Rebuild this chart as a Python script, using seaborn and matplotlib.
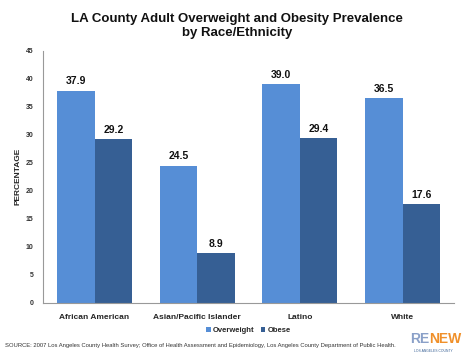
import pandas as pd
import seaborn as sns
from matplotlib import pyplot as plt

# data
groups = ['African American', 'Asian/Pacific Islander', 'Latino', 'White']
overweight = [37.9, 24.5, 39.0, 36.5]
obese = [29.2, 8.9, 29.4, 17.6]
series = ['Overweight', 'Obese']
yticks = [0, 5, 10, 15, 20, 25, 30, 35, 40, 45]

df = pd.DataFrame({
    'group': groups * 2,
    'value': overweight + obese,
    'series': [series[0]] * len(groups) + [series[1]] * len(groups),
})

sns.set_style("white")
plt.rcParams['font.family'] = ['Liberation Sans', 'DejaVu Sans']

fig = plt.figure(figsize=(4.74, 3.55), dpi=100)
ax = fig.add_axes([0.091, 0.147, 0.867, 0.71])

palette = ['#568ed6', '#365f94']
sns.barplot(data=df, x='group', y='value', hue='series', palette=palette,
            width=0.73, saturation=1, ax=ax, errorbar=None, linewidth=0)

for c in ax.containers:
    ax.bar_label(c, fmt='%.1f', fontsize=7.5, fontweight='bold', padding=3, color='#111111')

ax.set_ylim(0, 45)
ax.set_yticks(yticks)
ax.set_yticklabels(yticks, fontsize=5, fontweight='bold', color='#333333')
ax.set_xticks(range(len(groups)))
ax.set_xticklabels(groups, fontsize=6, fontweight='bold')
ax.tick_params(axis='y', length=2, color='#999999', pad=5)
ax.tick_params(axis='x', length=0, pad=8)
ax.set_xlabel('')
ax.set_ylabel('PERCENTAGE', fontsize=6, fontweight='bold', labelpad=3)
ax.set_xlim(-0.5, len(groups) - 0.5)

sns.despine(ax=ax)
for s in ['left', 'bottom']:
    ax.spines[s].set_color('#999999')
    ax.spines[s].set_linewidth(0.8)

leg = ax.legend(loc='center', bbox_to_anchor=(0.5, -0.11), ncol=2, frameon=False,
                handlelength=0.6, handleheight=0.6, handletextpad=0.3,
                columnspacing=0.8, prop={'weight': 'bold', 'size': 5.5})

fig.text(0.5, 0.962, 'LA County Adult Overweight and Obesity Prevalence\nby Race/Ethnicity',
         ha='center', va='top', fontsize=9.5, fontweight='bold', linespacing=1.15, color='#111111')

fig.text(0.01, 0.028, 'SOURCE: 2007 Los Angeles County Health Survey; Office of Health Assessment and '
         'Epidemiology, Los Angeles County Department of Public Health.',
         fontsize=4.2, color='#333333', va='center')

# logo stand-in
fig.text(0.905, 0.045, 'RE', fontsize=10, fontweight='bold', color='#8aa0c8', va='center', ha='right')
fig.text(0.905, 0.045, 'NEW', fontsize=10, fontweight='bold', color='#f0902a', va='center', ha='left')
fig.text(0.915, 0.012, 'LOS ANGELES COUNTY', fontsize=2.4, color='#365f94', ha='center', va='center')

fig.savefig('out.png', dpi=100)
